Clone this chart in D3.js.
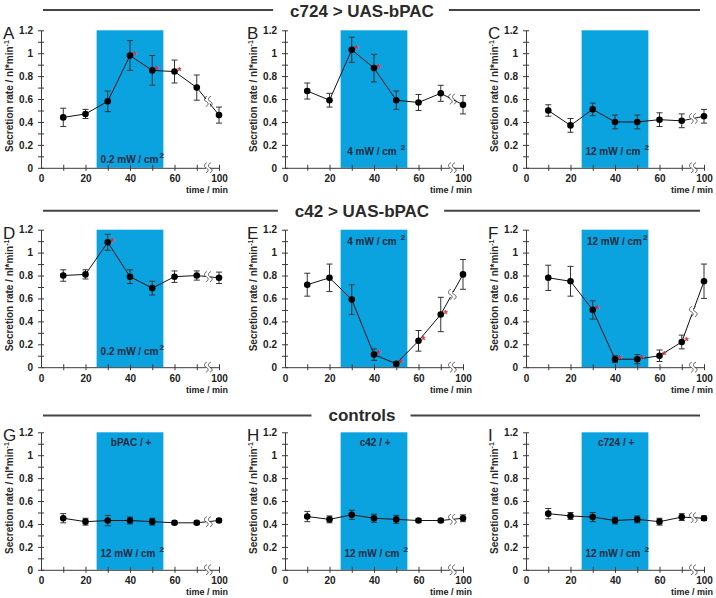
<!DOCTYPE html>
<html>
<head>
<meta charset="utf-8">
<script src="https://cdn.jsdelivr.net/npm/d3@7"></script>
<style>
  body { margin: 0; background: #fff; }
  text { font-family: "Liberation Sans", Arial, sans-serif; }
</style>
</head>
<body>
<div id="chart"></div>
<script>
var svgWidth = 716;
var svgHeight = 598;

// sampling times (min), 100 is drawn after an axis break
var times = [10, 20, 30, 40, 50, 60, 70, 100];
var lightOn = 25, lightOff = 55;

// c724 > UAS-bPAC
var meanA = [0.44, 0.47, 0.58, 0.98, 0.85, 0.84, 0.70, 0.46];
var errA  = [0.08, 0.04, 0.09, 0.13, 0.13, 0.10, 0.11, 0.07];
var starsA = [40, 50, 60];
var meanB = [0.67, 0.59, 1.03, 0.87, 0.59, 0.57, 0.65, 0.55];
var errB  = [0.07, 0.06, 0.11, 0.12, 0.08, 0.07, 0.07, 0.08];
var starsB = [30, 40];
var meanC = [0.50, 0.37, 0.51, 0.40, 0.40, 0.42, 0.41, 0.45];
var errC  = [0.05, 0.06, 0.055, 0.06, 0.06, 0.06, 0.06, 0.06];
var starsC = [];

// c42 > UAS-bPAC
var meanD = [0.80, 0.81, 1.09, 0.79, 0.69, 0.79, 0.80, 0.78];
var errD  = [0.05, 0.04, 0.07, 0.06, 0.06, 0.05, 0.04, 0.05];
var starsD = [30];
var meanE = [0.72, 0.78, 0.59, 0.11, 0.03, 0.23, 0.46, 0.81];
var errE  = [0.10, 0.12, 0.13, 0.05, 0.02, 0.09, 0.15, 0.13];
var starsE = [40, 50, 60, 70];
var meanF = [0.78, 0.75, 0.50, 0.07, 0.07, 0.10, 0.22, 0.75];
var errF  = [0.11, 0.13, 0.08, 0.03, 0.04, 0.05, 0.06, 0.15];
var starsF = [30, 40, 50, 60, 70];

// controls
var meanG = [0.45, 0.42, 0.43, 0.43, 0.42, 0.41, 0.41, 0.43];
var errG  = [0.04, 0.03, 0.045, 0.03, 0.03, 0.015, 0.015, 0.015];
var starsG = [];
var meanH = [0.465, 0.44, 0.48, 0.45, 0.44, 0.43, 0.43, 0.45];
var errH  = [0.045, 0.03, 0.04, 0.035, 0.035, 0.015, 0.015, 0.03];
var starsH = [];
var meanI = [0.49, 0.47, 0.46, 0.43, 0.44, 0.42, 0.46, 0.45];
var errI  = [0.045, 0.03, 0.04, 0.03, 0.03, 0.03, 0.03, 0.02];
var starsI = [];

var rowTitles = ["c724 > UAS-bPAC", "c42 > UAS-bPAC", "controls"];
var panelLetters = ["A", "B", "C", "D", "E", "F", "G", "H", "I"];
var powerLabels = ["0.2 mW / cm", "4 mW / cm", "12 mW / cm",
                   "0.2 mW / cm", "4 mW / cm", "12 mW / cm",
                   "12 mW / cm", "12 mW / cm", "12 mW / cm"];
var genotypeLabels = ["", "", "", "", "", "", "bPAC / +", "c42 / +", "c724 / +"];

var panels = [
  {mean: meanA, err: errA, stars: starsA},
  {mean: meanB, err: errB, stars: starsB},
  {mean: meanC, err: errC, stars: starsC},
  {mean: meanD, err: errD, stars: starsD},
  {mean: meanE, err: errE, stars: starsE},
  {mean: meanF, err: errF, stars: starsF},
  {mean: meanG, err: errG, stars: starsG},
  {mean: meanH, err: errH, stars: starsH},
  {mean: meanI, err: errI, stars: starsI}
];

// layout
var colX = [41, 285, 526];
var rowY = [30.3, 229.7, 432.3];
var pw = 178, ph = 137.5;
var headerLineY = [10, 210.7, 415.5];
var headerBase = [17, 217, 421];
var axisColor = "#3a3a3a";
var boxColor = "#0aa3e0";

var svg = d3.select("#chart")
  .append("svg")
  .attr("width", svgWidth)
  .attr("height", svgHeight);

// row headers with a rule on both sides
rowTitles.forEach(function(t, r) {
  var label = svg.append("text")
    .attr("x", 362)
    .attr("y", headerBase[r])
    .attr("text-anchor", "middle")
    .style("font-size", "17px")
    .style("font-weight", "bold")
    .attr("fill", "#2a2a2a")
    .text(t);
  var len = label.node().getComputedTextLength();
  svg.append("line")
    .attr("x1", 43).attr("x2", 362 - len / 2 - 17)
    .attr("y1", headerLineY[r]).attr("y2", headerLineY[r])
    .attr("stroke", "#444").attr("stroke-width", 2);
  svg.append("line")
    .attr("x1", 362 + len / 2 + 15).attr("x2", 700)
    .attr("y1", headerLineY[r]).attr("y2", headerLineY[r])
    .attr("stroke", "#444").attr("stroke-width", 2);
});

panels.forEach(function(p, i) {
  drawPanel(p, i, i % 3, Math.floor(i / 3));
});

// the two little S-shaped strokes marking the axis break
function breakMark(g, cx, cy) {
  g.append("rect")
    .attr("x", cx - 2).attr("y", cy - 2.5)
    .attr("width", 4).attr("height", 5)
    .attr("fill", "#fff");
  [-2, 2].forEach(function(dx) {
    var sx = cx + dx + 1;
    g.append("path")
      .attr("d", `M${sx},${cy - 5} c -3,1 -3,4 -1,5 c 3,1 3,4 0,5`)
      .attr("fill", "none")
      .attr("stroke", axisColor)
      .attr("stroke-width", 0.8);
  });
}

function drawPanel(p, i, col, row) {
  var g = svg.append("g")
    .attr("transform", `translate(${colX[col]}, ${rowY[row]})`);

  // 70 -> 100 is squeezed into one interval (axis break)
  var x = d3.scaleLinear().domain([0, 70, 100]).range([0, pw * 70 / 80, pw]);
  var y = d3.scaleLinear().domain([0, 1.2]).range([ph, 0]);

  // light stimulus
  g.append("rect")
    .attr("x", x(lightOn))
    .attr("width", x(lightOff) - x(lightOn))
    .attr("y", y(1.2))
    .attr("height", y(0) - y(1.2))
    .attr("fill", boxColor);

  // labels inside the box
  var top = genotypeLabels[i] !== "";
  var powerAtTop = (i === 4 || i === 5);
  var pl = g.append("text")
    .attr("x", x(41))
    .attr("y", powerAtTop ? y(1.07) : (i === 0 ? y(0.04) : y(0.11)))
    .attr("text-anchor", "middle")
    .style("font-size", "10px")
    .style("font-weight", "bold")
    .attr("fill", "#1c2a3c");
  pl.append("tspan").text(powerLabels[i]);
  pl.append("tspan")
    .attr("dx", (i === 0 || i === 3 || i === 5) ? 1 : 4)
    .attr("dy", -5)
    .style("font-size", "8px")
    .text("2");
  if (top) {
    g.append("text")
      .attr("x", x(40.5))
      .attr("y", y(1.08))
      .attr("text-anchor", "middle")
      .style("font-size", "10px")
      .style("font-weight", "bold")
      .attr("fill", "#1c2a3c")
      .text(genotypeLabels[i]);
  }

  // y axis
  var yAxis = g.append("g")
    .call(d3.axisLeft(y)
      .tickValues(d3.range(0, 13).map(d => d / 10))
      .tickSize(3)
      .tickSizeOuter(0)
      .tickPadding(5)
      .tickFormat(d => (Math.round(d * 10) % 2 === 0) ? String(+d.toFixed(1)) : ""));
  yAxis.selectAll(".tick line").attr("x2", -3).attr("x1", 3);

  // x axis
  var xAxis = g.append("g")
    .attr("transform", `translate(0, ${ph})`)
    .call(d3.axisBottom(x)
      .tickValues([0, 10, 20, 30, 40, 50, 60, 70, 100])
      .tickSize(3)
      .tickSizeOuter(0)
      .tickPadding(4.5)
      .tickFormat(d => [0, 20, 40, 60, 100].indexOf(d) >= 0 ? d : ""));
  xAxis.selectAll(".tick line").attr("y1", -3);
  xAxis.selectAll(".tick").filter(d => d === 0).select("line").remove();

  [yAxis, xAxis].forEach(function(a) {
    a.selectAll("path, line").attr("stroke", axisColor);
    a.selectAll("text")
      .style("font-size", "10px")
      .style("font-weight", "bold")
      .style("font-family", "'Liberation Sans', Arial, sans-serif")
      .attr("fill", "#222");
  });
  breakMark(xAxis, x(85), 0);

  g.append("text")
    .attr("x", pw + 9)
    .attr("y", ph + 25.5)
    .attr("text-anchor", "end")
    .style("font-size", "9px")
    .style("font-weight", "bold")
    .attr("fill", "#222")
    .text("time / min");

  // y axis title
  var yt = g.append("text")
    .attr("transform", `translate(-28, ${ph / 2 - 3}) rotate(-90)`)
    .attr("text-anchor", "middle")
    .style("font-size", "10px")
    .style("font-weight", "bold")
    .attr("fill", "#2a2a2a");
  yt.append("tspan").text("Secretion rate / nl*min");
  yt.append("tspan").attr("dy", -4).style("font-size", "7px").text("-1");

  // panel letter
  g.append("text")
    .attr("x", -38)
    .attr("y", 9)
    .style("font-size", "17px")
    .attr("fill", "#222")
    .text(panelLetters[i]);

  var data = times.map((t, k) => ({t: t, m: p.mean[k], e: p.err[k]}));

  // connecting line with the break between 70 and 100
  g.append("path")
    .datum(data)
    .attr("d", d3.line().x(d => x(d.t)).y(d => y(d.m)))
    .attr("fill", "none")
    .attr("stroke", "#111")
    .attr("stroke-width", 1);
  var last = data[data.length - 1], prev = data[data.length - 2];
  breakMark(g, x(85), y((prev.m + last.m) / 2));

  // error bars
  var eb = g.selectAll(".err")
    .data(data)
    .enter()
    .append("g")
    .attr("stroke", "#333")
    .attr("stroke-width", 1);
  eb.append("line")
    .attr("x1", d => x(d.t)).attr("x2", d => x(d.t))
    .attr("y1", d => y(d.m - d.e)).attr("y2", d => y(d.m + d.e));
  eb.append("line")
    .attr("x1", d => x(d.t) - 3).attr("x2", d => x(d.t) + 3)
    .attr("y1", d => y(d.m + d.e)).attr("y2", d => y(d.m + d.e));
  eb.append("line")
    .attr("x1", d => x(d.t) - 3).attr("x2", d => x(d.t) + 3)
    .attr("y1", d => y(d.m - d.e)).attr("y2", d => y(d.m - d.e));

  // points
  g.selectAll(".pt")
    .data(data)
    .enter()
    .append("circle")
    .attr("cx", d => x(d.t))
    .attr("cy", d => y(d.m))
    .attr("r", 3.3)
    .attr("fill", "#000");

  // significance stars
  g.selectAll(".star")
    .data(data.filter(d => p.stars.indexOf(d.t) >= 0))
    .enter()
    .append("text")
    .attr("x", d => x(d.t) + 5)
    .attr("y", d => y(d.m) + 3.5)
    .attr("text-anchor", "middle")
    .style("font-size", "11px")
    .style("font-weight", "bold")
    .attr("fill", "#e0303a")
    .text("*");
}
</script>
</body>
</html>
